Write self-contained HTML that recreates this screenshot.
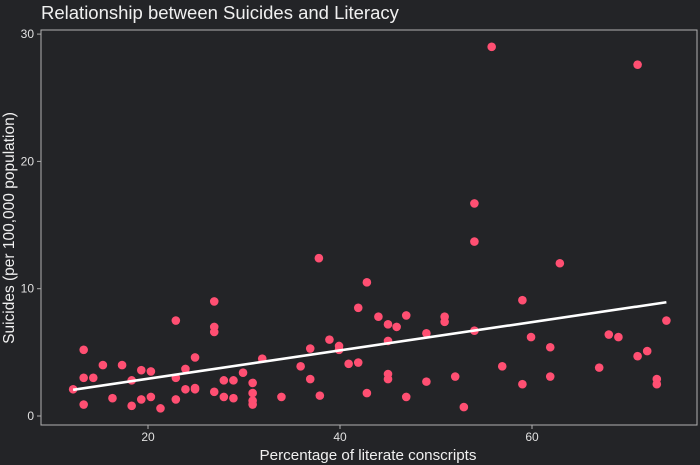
<!DOCTYPE html>
<html><head><meta charset="utf-8"><style>
html,body{margin:0;padding:0;background:#232427;}
svg{display:block;font-family:"Liberation Sans",sans-serif;}
</style></head><body>
<svg id="chart" width="700" height="465">
<rect width="700" height="465" fill="#232427"/>
<text x="41" y="19" fill="#f0f0f0" font-size="18.5">Relationship between Suicides and Literacy</text>
<g id="axes"></g>
<g id="marks"></g>
<text x="368" y="460" fill="#f0f0f0" font-size="15.2" text-anchor="middle">Percentage of literate conscripts</text>
<text transform="translate(14,228) rotate(-90)" fill="#f0f0f0" font-size="15.5" text-anchor="middle">Suicides (per 100,000 population)</text>
</svg>
<script>
const literacy = [12.2,13.3,13.3,13.3,14.3,15.3,16.3,17.3,18.3,18.3,19.3,19.3,20.3,20.3,21.3,22.9,22.9,22.9,23.9,23.9,24.9,24.9,24.9,26.9,26.9,26.9,26.9,27.9,27.9,28.9,28.9,29.9,30.9,30.9,30.9,30.9,31.9,33.9,35.9,36.9,36.9,37.9,37.8,38.9,39.9,39.9,40.9,41.9,41.9,42.8,42.8,44.0,45.0,45.0,45.0,45.0,45.9,46.9,46.9,49.0,49.0,50.9,50.9,52.0,52.9,54.0,54.0,54.0,55.8,56.9,59.0,59.0,59.9,61.9,61.9,62.9,67.0,68.0,69.0,71.0,71.0,72.0,73.0,73.0,74.0];
const suicides = [2.1,5.2,3.0,0.9,3.0,4.0,1.4,4.0,2.8,0.8,3.6,1.3,3.5,1.5,0.6,7.5,3.0,1.3,3.7,2.1,4.6,2.2,2.1,9.0,7.0,6.6,1.9,2.8,1.5,2.8,1.4,3.4,2.6,1.8,1.2,0.9,4.5,1.5,3.9,5.3,2.9,1.6,12.4,6.0,5.5,5.2,4.1,8.5,4.2,10.5,1.8,7.8,7.2,5.9,3.3,2.9,7.0,7.9,1.5,6.5,2.7,7.8,7.4,3.1,0.7,6.7,13.7,16.7,29.0,3.9,9.1,2.5,6.2,5.4,3.1,12.0,3.8,6.4,6.2,4.7,27.6,5.1,2.9,2.5,7.5];
const xTicks = [20,40,60];
const yTicks = [0,10,20,30];

const L=41,R=697,T=30,B=425;
const xs = v => 148 + (v-20)*9.6;
const ys = v => 416 - v*12.73;
const NS='http://www.w3.org/2000/svg';
const axes=document.getElementById('axes'), marks=document.getElementById('marks');
function mk(tag,attrs,parent){const e=document.createElementNS(NS,tag);for(const k in attrs)e.setAttribute(k,attrs[k]);parent.appendChild(e);return e;}
const frame=mk('rect',{x:L,y:T,width:R-L,height:B-T,fill:'#232427',stroke:'#b0b0b0','stroke-width':1},axes);


xTicks.forEach(t=>{
  const x=xs(t);
  const ln=mk('line',{x1:x,x2:x,y1:B,y2:B+4,stroke:'#b0b0b0'},axes);
  
  
  const tx=mk('text',{x:x,y:B+16,fill:'#e0e0e0','font-size':12,'text-anchor':'middle'},axes);
  tx.textContent=t;
  
  
});
yTicks.forEach(t=>{
  const y=ys(t);
  const ln=mk('line',{x1:L-4,x2:L,y1:y,y2:y,stroke:'#b0b0b0'},axes);
  
  
  const tx=mk('text',{x:L-7,y:y+4,fill:'#e0e0e0','font-size':12,'text-anchor':'end'},axes);
  tx.textContent=t;
  
  
});
literacy.forEach((v,i)=>{
  const c=mk('circle',{cx:xs(v),cy:ys(suicides[i]),r:4.3,fill:'#ff4f72'},marks);
  
  
});
const n=literacy.length;
const mx=literacy.reduce((a,b)=>a+b,0)/n, my=suicides.reduce((a,b)=>a+b,0)/n;
let sxy=0,sxx=0;literacy.forEach((v,i)=>{sxy+=(v-mx)*(suicides[i]-my);sxx+=(v-mx)*(v-mx);});
const slope=sxy/sxx, icpt=my-slope*mx;
const x0=Math.min(...literacy), x1=Math.max(...literacy);
const fit=mk('line',{x1:xs(x0),y1:ys(icpt+slope*x0),x2:xs(x1),y2:ys(icpt+slope*x1),stroke:'#ffffff','stroke-width':2.6},marks);


</script>
</body></html>
